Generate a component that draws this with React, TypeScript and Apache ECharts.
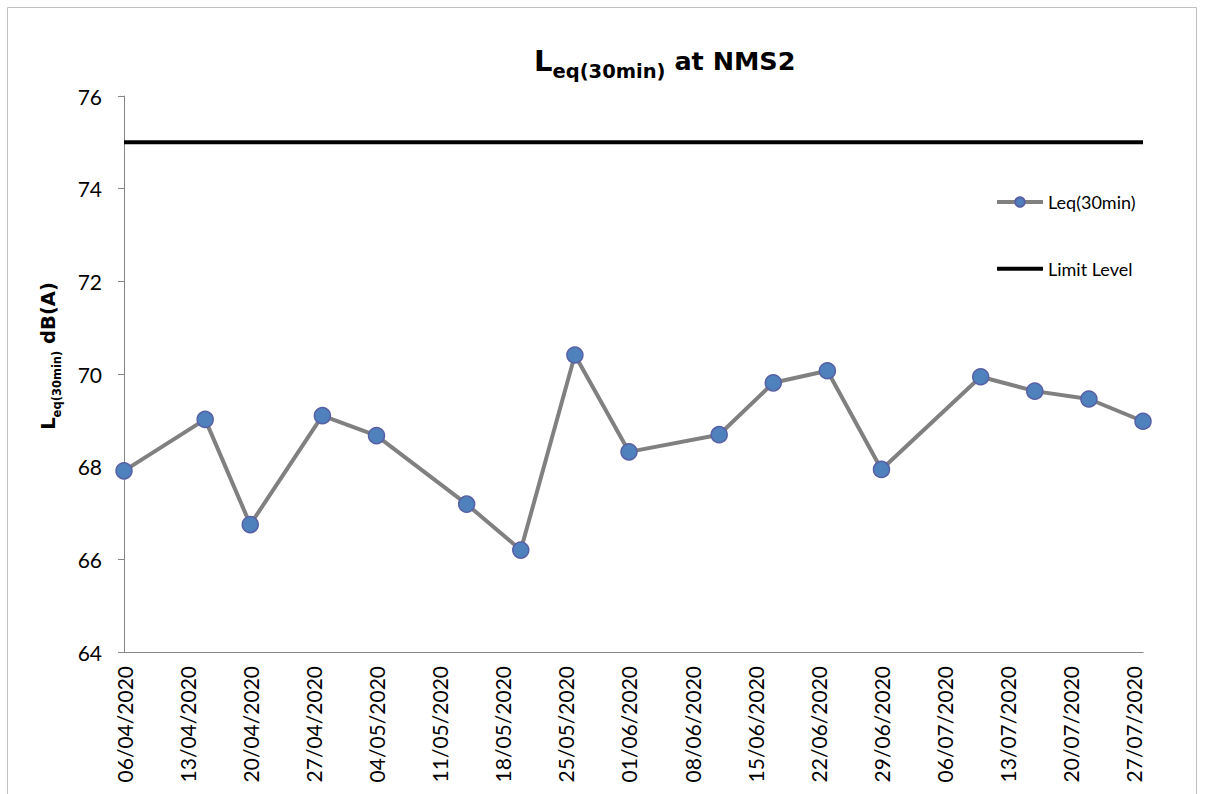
import React, { useEffect, useRef } from "react";
import * as echarts from "echarts";

// ---- data ----
const measurementDates: string[] = [
  "06/04/2020", "15/04/2020", "20/04/2020", "28/04/2020", "04/05/2020",
  "14/05/2020", "20/05/2020", "26/05/2020", "01/06/2020", "11/06/2020",
  "17/06/2020", "23/06/2020", "29/06/2020", "10/07/2020", "16/07/2020",
  "22/07/2020", "28/07/2020",
];
const leqValues: number[] = [
  67.91, 69.02, 66.75, 69.1, 68.67,
  67.19, 66.2, 70.41, 68.32, 68.69,
  69.81, 70.07, 67.94, 69.94, 69.63,
  69.46, 68.98,
];
const limitLevel = 75;
const axisStartDate = "06/04/2020";
const axisEndDate = "28/07/2020";
const tickStepDays = 7;
const yMin = 64;
const yMax = 76;
const yStep = 2;

const DAY = 86400000;
function parseDMY(s: string): number {
  const [d, m, y] = s.split("/").map(Number);
  return Date.UTC(y, m - 1, d);
}
const baseTime = parseDMY(axisStartDate);
const toDay = (s: string) => Math.round((parseDMY(s) - baseTime) / DAY);
const pad = (n: number) => (n < 10 ? "0" + n : "" + n);
function dayLabel(v: number): string {
  if (Math.abs(v % tickStepDays) > 1e-6) return "";
  const dt = new Date(baseTime + v * DAY);
  return pad(dt.getUTCDate()) + "/" + pad(dt.getUTCMonth() + 1) + "/" + dt.getUTCFullYear();
}

export default function App() {
  const ref = useRef<HTMLDivElement>(null);

  useEffect(() => {
    if (!ref.current) return;
    const chart = echarts.init(ref.current, null, { renderer: "svg" });
    const endDay = toDay(axisEndDate);
    const leqData = measurementDates.map((d, i) => [toDay(d), leqValues[i]]);
    const limitData = [[0, limitLevel], [endDay, limitLevel]];
    const tickFont = "Lato, 'Open Sans', sans-serif";
    const boldFont = "'DejaVu Sans', Verdana, sans-serif";

    chart.setOption({
      animation: false,
      backgroundColor: "#ffffff",
      title: {
        text: "{L|L}{sub|eq(30min)}{m| at NMS2}",
        left: 534,
        top: 40,
        padding: 0,
        textStyle: {
          rich: {
            L: { fontFamily: boldFont, fontWeight: "bold", fontSize: 29, color: "#000" },
            sub: { fontFamily: boldFont, fontWeight: "bold", fontSize: 19.5, color: "#000", padding: [21, 0, 0, 0] },
            m: { fontFamily: boldFont, fontWeight: "bold", fontSize: 25.5, color: "#000" },
          },
        },
      },
      legend: {
        orient: "vertical",
        left: 995,
        top: 192,
        padding: 0,
        itemWidth: 46,
        itemHeight: 12,
        itemGap: 46.7,
        lineStyle: { width: "inherit" },
        textStyle: { fontFamily: tickFont, fontSize: 18, lineHeight: 20, color: "#000" },
        data: [
          { name: "Leq(30min)" },
          { name: "Limit Level", itemStyle: { opacity: 0 } },
        ],
      },
      graphic: [
        {
          type: "rect",
          shape: { x: 7.5, y: 7.5, width: 1189, height: 800 },
          style: { fill: "none", stroke: "#C0C0C0", lineWidth: 1 },
          silent: true,
          z: -10,
        },
      ],
      grid: {
        left: 124,
        top: 96,
        width: 1019,
        height: 556,
        containLabel: false,
        outerBoundsMode: "none",
      },
      xAxis: {
        type: "value",
        min: 0,
        max: endDay,
        interval: tickStepDays,
        splitLine: { show: false },
        axisTick: { show: false },
        axisLine: { show: true, lineStyle: { color: "#868686", width: 1 } },
        axisLabel: {
          rotate: 90,
          margin: 14,
          fontFamily: tickFont,
          fontSize: 21,
          color: "#000",
          formatter: (v: number) => dayLabel(v),
          showMaxLabel: false,
          hideOverlap: false,
        },
      },
      yAxis: {
        type: "value",
        min: yMin,
        max: yMax,
        interval: yStep,
        name: "{L|L}{sub|eq(30min)}{m| dB(A)}",
        nameLocation: "middle",
        nameRotate: 90,
        nameGap: 61,
        nameTextStyle: {
          padding: [0, 0, 0, 36],
          rich: {
            L: { fontFamily: boldFont, fontWeight: "bold", fontSize: 19.5, color: "#000" },
            sub: { fontFamily: boldFont, fontWeight: "bold", fontSize: 11.5, color: "#000", padding: [18, 0, 0, 0] },
            m: { fontFamily: boldFont, fontWeight: "bold", fontSize: 19.5, color: "#000" },
          },
        },
        splitLine: { show: false },
        axisLine: { show: true, lineStyle: { color: "#868686", width: 1 } },
        axisTick: { show: true, inside: false, length: 6, lineStyle: { color: "#868686" } },
        axisLabel: {
          margin: 22,
          fontFamily: tickFont,
          fontSize: 21,
          color: "#000",
        },
      },
      series: [
        {
          name: "Leq(30min)",
          type: "line",
          data: leqData,
          symbol: "circle",
          symbolSize: 16,
          lineStyle: { color: "#808080", width: 4 },
          itemStyle: { color: "#4F81BD", borderColor: "#5760A4", borderWidth: 1.5 },
          z: 3,
        },
        {
          name: "Limit Level",
          type: "line",
          data: limitData,
          symbol: "none",
          lineStyle: { color: "#000000", width: 4 },
          itemStyle: { color: "#000000" },
          z: 2,
        },
      ],
    });
    return () => chart.dispose();
  }, []);

  return (
    <div
      ref={ref}
      style={{ position: "absolute", left: 0, top: 0, width: 1205, height: 794, background: "#fff" }}
    />
  );
}
